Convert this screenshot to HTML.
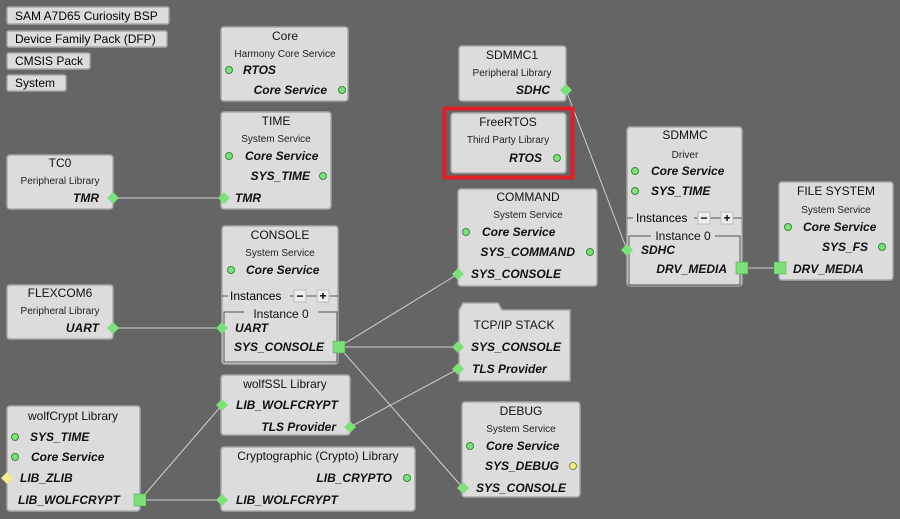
<!DOCTYPE html>
<html><head><meta charset="utf-8"><style>
html,body{margin:0;padding:0;background:#656565;}
svg{display:block;font-family:"Liberation Sans",sans-serif;}
.bx{fill:#dcdcdc;stroke:#a8a8a8;stroke-width:1.5;}
.t{font-size:12px;fill:#111;text-anchor:middle;}
.s{font-size:10px;fill:#222;text-anchor:middle;}
.p{font-size:12px;font-weight:bold;font-style:italic;fill:#111;}
.r{text-anchor:end;}
.dot{fill:#7de07d;stroke:#3a8a3a;stroke-width:1;}
.ydot{fill:#f4ec8a;stroke:#8a8440;stroke-width:1;}
.dm{fill:#7de07d;}
.sq{fill:#7de07d;stroke:#4a9a4a;stroke-width:.5;}
.ln{stroke:#d0d0d0;stroke-width:1;fill:none;}
.btn{fill:#dcdcdc;stroke:#a8a8a8;stroke-width:1.5;}
.fr{fill:none;stroke:#555;stroke-width:1;}
</style></head><body>
<svg width="900" height="519" viewBox="0 0 900 519">
<defs>
<g id="d"><polygon points="0,-6 6,0 0,6 -6,0" class="dm"/></g>
<g id="yd"><polygon points="0,-6 6,0 0,6 -6,0" fill="#f4ec8a"/></g>
</defs>
<!-- lines -->
<line class="ln" x1="113" y1="198" x2="224" y2="198"/>
<line class="ln" x1="113" y1="328" x2="222" y2="328"/>
<line class="ln" x1="339" y1="347" x2="458" y2="274"/>
<line class="ln" x1="339" y1="347" x2="458" y2="347"/>
<line class="ln" x1="339" y1="347" x2="463" y2="488"/>
<line class="ln" x1="566" y1="90" x2="627" y2="250"/>
<line class="ln" x1="742" y1="268" x2="780" y2="268"/>
<line class="ln" x1="350" y1="427" x2="458" y2="369"/>
<line class="ln" x1="140" y1="500" x2="222" y2="405"/>
<line class="ln" x1="140" y1="500" x2="222" y2="500"/>

<!-- buttons -->
<rect class="btn" x="7" y="7" width="162" height="17" rx="2"/><text x="15" y="20" style="font-size:12px">SAM A7D65 Curiosity BSP</text>
<rect class="btn" x="7" y="31" width="160" height="16" rx="2"/><text x="15" y="43" style="font-size:12px">Device Family Pack (DFP)</text>
<rect class="btn" x="7" y="53" width="83" height="16" rx="2"/><text x="15" y="65" style="font-size:12px">CMSIS Pack</text>
<rect class="btn" x="7" y="75" width="59" height="16" rx="2"/><text x="15" y="87" style="font-size:12px">System</text>

<!-- Core -->
<rect class="bx" x="221" y="27" width="127" height="74" rx="3"/>
<text class="t" x="285" y="40">Core</text><text class="s" x="285" y="57">Harmony Core Service</text>
<circle class="dot" cx="229" cy="70" r="3.5"/><text class="p" x="243" y="74">RTOS</text>
<text class="p r" x="327" y="94">Core Service</text><circle class="dot" cx="342" cy="90" r="3.5"/>

<!-- TIME -->
<rect class="bx" x="221" y="112" width="110" height="97" rx="3"/>
<text class="t" x="276" y="125">TIME</text><text class="s" x="276" y="142">System Service</text>
<circle class="dot" cx="229" cy="156" r="3.5"/><text class="p" x="245" y="160">Core Service</text>
<text class="p r" x="310" y="180">SYS_TIME</text><circle class="dot" cx="323" cy="176" r="3.5"/>
<use href="#d" x="224" y="198"/><text class="p" x="235" y="202">TMR</text>

<!-- TC0 -->
<rect class="bx" x="7" y="155" width="106" height="54" rx="3"/>
<text class="t" x="60" y="167">TC0</text><text class="s" x="60" y="184">Peripheral Library</text>
<text class="p r" x="99" y="202">TMR</text><use href="#d" x="113" y="198"/>

<!-- CONSOLE -->
<rect class="bx" x="222" y="226" width="116" height="138" rx="3"/>
<text class="t" x="280" y="239">CONSOLE</text><text class="s" x="280" y="256">System Service</text>
<circle class="dot" cx="231" cy="270" r="3.5"/><text class="p" x="246" y="274">Core Service</text>
<line class="fr" x1="222" y1="296" x2="228" y2="296"/><text x="230" y="300" style="font-size:12px">Instances</text>
<line class="fr" x1="290" y1="296" x2="338" y2="296"/>
<rect x="294" y="290" width="12" height="12" fill="#eee" stroke="#bbb"/><text x="300" y="300" style="font-size:12px;font-weight:bold;text-anchor:middle">−</text>
<rect x="317" y="290" width="12" height="12" fill="#eee" stroke="#bbb"/><text x="323" y="300" style="font-size:12px;font-weight:bold;text-anchor:middle">+</text>
<path class="fr" d="M244 312 H224 V362 H337 V312 H318"/><text class="t" x="281" y="318">Instance 0</text>
<use href="#d" x="222" y="328"/><text class="p" x="235" y="332">UART</text>
<text class="p" x="234" y="351">SYS_CONSOLE</text><rect class="sq" x="333" y="341" width="12" height="12"/>

<!-- FLEXCOM6 -->
<rect class="bx" x="7" y="285" width="106" height="54" rx="3"/>
<text class="t" x="60" y="297">FLEXCOM6</text><text class="s" x="60" y="314">Peripheral Library</text>
<text class="p r" x="99" y="332">UART</text><use href="#d" x="113" y="328"/>

<!-- wolfSSL -->
<rect class="bx" x="221" y="375" width="129" height="60" rx="3"/>
<text class="t" x="285" y="388">wolfSSL Library</text>
<use href="#d" x="222" y="405"/><text class="p" x="236" y="409">LIB_WOLFCRYPT</text>
<text class="p r" x="336" y="431">TLS Provider</text><use href="#d" x="350" y="427"/>

<!-- wolfCrypt -->
<rect class="bx" x="7" y="406" width="133" height="105" rx="3"/>
<text class="t" x="73" y="420">wolfCrypt Library</text>
<circle class="dot" cx="15" cy="437" r="3.5"/><text class="p" x="30" y="441">SYS_TIME</text>
<circle class="dot" cx="15" cy="457" r="3.5"/><text class="p" x="31" y="461">Core Service</text>
<use href="#yd" x="7" y="478"/><text class="p" x="20" y="482">LIB_ZLIB</text>
<text class="p" x="18" y="504">LIB_WOLFCRYPT</text><rect class="sq" x="134" y="494" width="12" height="12"/>

<!-- Crypto -->
<rect class="bx" x="221" y="447" width="194" height="64" rx="3"/>
<text class="t" x="318" y="460">Cryptographic (Crypto) Library</text>
<text class="p r" x="392" y="482">LIB_CRYPTO</text><circle class="dot" cx="407" cy="478" r="3.5"/>
<use href="#d" x="222" y="500"/><text class="p" x="236" y="504">LIB_WOLFCRYPT</text>

<!-- SDMMC1 -->
<rect class="bx" x="459" y="46" width="107" height="55" rx="3"/>
<text class="t" x="512" y="59">SDMMC1</text><text class="s" x="512" y="76">Peripheral Library</text>
<text class="p r" x="550" y="94">SDHC</text><use href="#d" x="566" y="90"/>

<!-- FreeRTOS -->
<rect x="444.5" y="108.5" width="128" height="69" fill="none" stroke="#e02028" stroke-width="4"/>
<rect class="bx" x="451" y="113" width="115" height="60" rx="3"/>
<text class="t" x="508" y="126">FreeRTOS</text><text class="s" x="508" y="143">Third Party Library</text>
<text class="p r" x="542" y="162">RTOS</text><circle class="dot" cx="557" cy="158" r="3.5"/>

<!-- COMMAND -->
<rect class="bx" x="458" y="189" width="139" height="97" rx="3"/>
<text class="t" x="528" y="201">COMMAND</text><text class="s" x="528" y="218">System Service</text>
<circle class="dot" cx="466" cy="232" r="3.5"/><text class="p" x="482" y="236">Core Service</text>
<text class="p r" x="575" y="256">SYS_COMMAND</text><circle class="dot" cx="590" cy="252" r="3.5"/>
<use href="#d" x="458" y="274"/><text class="p" x="471" y="278">SYS_CONSOLE</text>

<!-- TCP/IP -->
<path class="bx" d="M459 310 L463 303 H498 L502 310 H570 V381 H459 Z"/>
<text class="t" x="514" y="329">TCP/IP STACK</text>
<use href="#d" x="458" y="347"/><text class="p" x="471" y="351">SYS_CONSOLE</text>
<use href="#d" x="458" y="369"/><text class="p" x="472" y="373">TLS Provider</text>

<!-- DEBUG -->
<rect class="bx" x="462" y="402" width="118" height="95" rx="3"/>
<text class="t" x="521" y="415">DEBUG</text><text class="s" x="521" y="432">System Service</text>
<circle class="dot" cx="470" cy="446" r="3.5"/><text class="p" x="486" y="450">Core Service</text>
<text class="p r" x="559" y="470">SYS_DEBUG</text><circle class="ydot" cx="573" cy="466" r="3.5"/>
<use href="#d" x="463" y="488"/><text class="p" x="476" y="492">SYS_CONSOLE</text>

<!-- SDMMC -->
<rect class="bx" x="627" y="127" width="115" height="159" rx="3"/>
<text class="t" x="685" y="139">SDMMC</text><text class="s" x="685" y="158">Driver</text>
<circle class="dot" cx="635" cy="171" r="3.5"/><text class="p" x="651" y="175">Core Service</text>
<circle class="dot" cx="635" cy="191" r="3.5"/><text class="p" x="651" y="195">SYS_TIME</text>
<line class="fr" x1="627" y1="218" x2="633" y2="218"/><text x="636" y="222" style="font-size:12px">Instances</text>
<line class="fr" x1="694" y1="218" x2="742" y2="218"/>
<rect x="698" y="212" width="12" height="12" fill="#eee" stroke="#bbb"/><text x="704" y="222" style="font-size:12px;font-weight:bold;text-anchor:middle">−</text>
<rect x="721" y="212" width="12" height="12" fill="#eee" stroke="#bbb"/><text x="727" y="222" style="font-size:12px;font-weight:bold;text-anchor:middle">+</text>
<path class="fr" d="M651 236 H629 V285 H740 V236 H715"/><text class="t" x="683" y="240">Instance 0</text>
<use href="#d" x="627" y="250"/><text class="p" x="641" y="254">SDHC</text>
<text class="p r" x="727" y="273">DRV_MEDIA</text><rect class="sq" x="736" y="262" width="12" height="12"/>

<!-- FILE SYSTEM -->
<rect class="bx" x="779" y="182" width="114" height="98" rx="3"/>
<text class="t" x="836" y="195">FILE SYSTEM</text><text class="s" x="836" y="213">System Service</text>
<circle class="dot" cx="788" cy="227" r="3.5"/><text class="p" x="803" y="231">Core Service</text>
<text class="p r" x="868" y="251">SYS_FS</text><circle class="dot" cx="882" cy="247" r="3.5"/>
<rect class="sq" x="774" y="262" width="12" height="12"/><text class="p" x="793" y="273">DRV_MEDIA</text>
</svg>
</body></html>
